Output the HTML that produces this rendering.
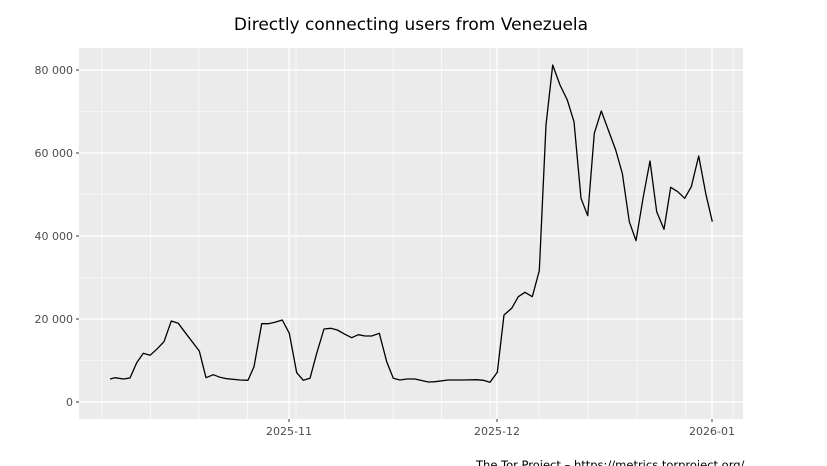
<!DOCTYPE html>
<html><head><meta charset="utf-8"><style>body{margin:0;background:#fff}svg{display:block}</style></head><body>
<svg width="827" height="466" xmlns="http://www.w3.org/2000/svg" font-family="DejaVu Sans, Liberation Sans, sans-serif">
<text x="411" y="30" text-anchor="middle" font-size="17" fill="#000">Directly connecting users from Venezuela</text>
<rect x="79" y="48" width="664" height="371" fill="#ebebeb"/>
<g stroke="#fff" stroke-width="0.6">
<line x1="79" x2="743" y1="360.5" y2="360.5"/><line x1="79" x2="743" y1="277.5" y2="277.5"/><line x1="79" x2="743" y1="194.5" y2="194.5"/><line x1="79" x2="743" y1="111.5" y2="111.5"/>
<line x1="102" x2="102" y1="48" y2="419"/><line x1="150.5" x2="150.5" y1="48" y2="419"/><line x1="199" x2="199" y1="48" y2="419"/><line x1="247.5" x2="247.5" y1="48" y2="419"/><line x1="296" x2="296" y1="48" y2="419"/><line x1="344.5" x2="344.5" y1="48" y2="419"/><line x1="393" x2="393" y1="48" y2="419"/><line x1="441.5" x2="441.5" y1="48" y2="419"/><line x1="490" x2="490" y1="48" y2="419"/><line x1="539" x2="539" y1="48" y2="419"/><line x1="588" x2="588" y1="48" y2="419"/><line x1="637" x2="637" y1="48" y2="419"/><line x1="685.5" x2="685.5" y1="48" y2="419"/><line x1="733" x2="733" y1="48" y2="419"/>
</g>
<g stroke="#fff" stroke-width="1.3">
<line x1="79" x2="743" y1="402" y2="402"/><line x1="79" x2="743" y1="319" y2="319"/><line x1="79" x2="743" y1="236" y2="236"/><line x1="79" x2="743" y1="153" y2="153"/><line x1="79" x2="743" y1="70" y2="70"/>
<line x1="289" x2="289" y1="48" y2="419"/><line x1="497" x2="497" y1="48" y2="419"/><line x1="712" x2="712" y1="48" y2="419"/>
</g>
<g stroke="#333" stroke-width="1">
<line x1="76" x2="79" y1="402" y2="402"/><line x1="76" x2="79" y1="319" y2="319"/><line x1="76" x2="79" y1="236" y2="236"/><line x1="76" x2="79" y1="153" y2="153"/><line x1="76" x2="79" y1="70" y2="70"/>
<line x1="289" x2="289" y1="419" y2="422"/><line x1="497" x2="497" y1="419" y2="422"/><line x1="712" x2="712" y1="419" y2="422"/>
</g>
<g font-size="11" fill="#4d4d4d" text-anchor="end">
<text x="73" y="406">0</text><text x="73" y="323">20 000</text><text x="73" y="240">40 000</text><text x="73" y="157">60 000</text><text x="73" y="74">80 000</text>
</g>
<g font-size="11" fill="#4d4d4d" text-anchor="middle">
<text x="289" y="435">2025-11</text><text x="497" y="435">2025-12</text><text x="712" y="435">2026-01</text>
</g>
<polyline fill="none" stroke="#000" stroke-width="1.3" stroke-linejoin="round" points="110,379 115,377.7 123.3,379 130,378 136.7,362.7 143.3,353.3 150,355.3 156.7,349.3 164,341.7 171.3,321 178.3,323.3 185,332.3 199.3,351 206,377.7 213.3,374.7 220,377.3 226.7,378.7 240,380 248,380.3 254,366.7 261.7,323.7 268.3,323.7 275,322.3 282.3,320 289.3,333.3 296.7,372.7 303.3,380.3 310,378.3 316.7,353.3 324,329 330.7,328.3 337.3,330 345,334.3 351.7,337.7 358.3,334.7 365,336 371.7,336 379.3,333.3 386.7,361.7 393.3,378.3 400,380 406.7,379 415,379 428.3,382 435,381.7 448.3,380 463.3,380 476.7,379.7 483.3,380.3 490,382.3 497.3,372.3 504,315 511.7,308.3 518.3,296.7 525,292.3 532.3,296.7 539.3,270.7 546,125 552.7,65 560,85 567.3,100 574,121.7 581,198.3 587.7,215.7 594.3,133.3 601.3,111 608.3,130 615.7,150 622.3,173.3 629.3,221.7 636,240.7 643.3,196.7 650,161 656.7,211.7 664,229.3 670.7,187.3 677.7,191.7 684.7,198.3 691.3,186.7 698.7,156 705.7,193.3 712.3,221.7"/>
<text x="476" y="469" font-size="11.5" fill="#000">The Tor Project – https://metrics.torproject.org/</text>
</svg>
</body></html>
